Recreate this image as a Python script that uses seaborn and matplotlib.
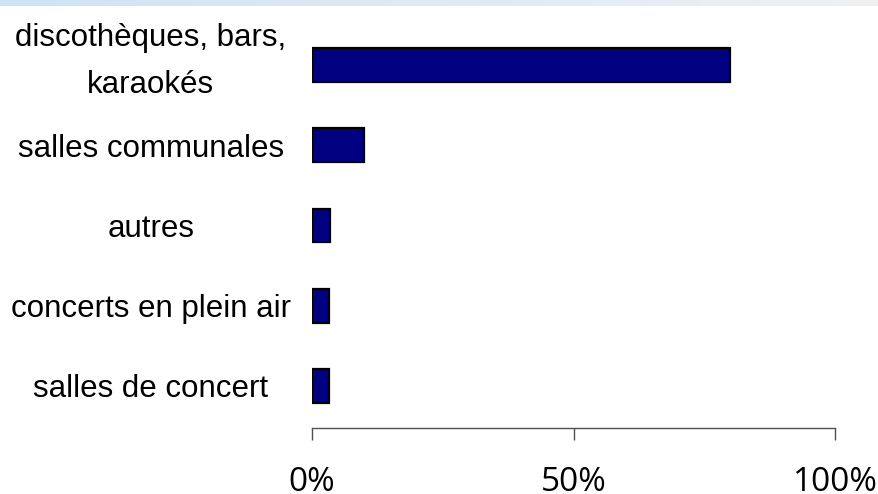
import numpy as np
import pandas as pd
import seaborn as sns
import matplotlib.pyplot as plt
import matplotlib.transforms as mtransforms
from matplotlib.ticker import FuncFormatter

categories = ["discothèques, bars,\nkaraokés", "salles communales", "autres",
              "concerts en plein air", "salles de concert"]
values = [80, 10, 3.5, 3.3, 3.2]
x_ticks = [0, 50, 100]

df = pd.DataFrame({"lieu": categories, "part": values})

sns.set_style("white")
plt.rcParams['font.family'] = ['Liberation Sans', 'DejaVu Sans']
plt.rcParams['text.color'] = 'black'

figure = plt.figure(figsize=(8.79, 4.94), dpi=100)
W, H = 879, 494
axis = figure.add_axes([312 / W, (494 - 428) / H, (835 - 312) / W, (428 - 23) / H])

sns.barplot(data=df, x="part", y="lieu", ax=axis, color="#000080", saturation=1,
            edgecolor="black", linewidth=1.6, width=0.42, orient="h")

axis.set_xlim(0, 100)
axis.set_ylim(4.525, -0.525)
axis.set_xticks(x_ticks)
axis.xaxis.set_major_formatter(FuncFormatter(lambda v, p: f"{v:.0f}%"))
axis.set_xlabel("")
axis.set_ylabel("")

for s in ["top", "right", "left"]:
    axis.spines[s].set_visible(False)
axis.spines["bottom"].set_color("#505050")
axis.spines["bottom"].set_linewidth(1.0)

axis.tick_params(axis="x", direction="out", length=8.6, width=1.0, color="#505050",
                 bottom=True, labelsize=24, pad=19, labelcolor="black")
for lab in axis.get_xticklabels():
    lab.set_family(["Open Sans", "DejaVu Sans"])
axis.tick_params(axis="y", length=0, pad=116, labelsize=22.5, labelcolor="black")
for lab in axis.get_yticklabels():
    lab.set_horizontalalignment("center")
    lab.set_multialignment("center")
    lab.set_linespacing(1.75)
first = axis.get_yticklabels()[0]
first.set_transform(first.get_transform()
                    + mtransforms.ScaledTranslation(0, 16 / 100, figure.dpi_scale_trans))

# faint band at the top of the slide
band = figure.add_axes([0, 1 - 6 / H, 1, 6 / H])
grad = np.linspace(0, 1, 256).reshape(1, -1)
band.imshow(grad, aspect="auto", cmap=sns.light_palette("#cfe3f5", as_cmap=True, reverse=True))
band.axis("off")

figure.savefig("out.png", dpi=100)
